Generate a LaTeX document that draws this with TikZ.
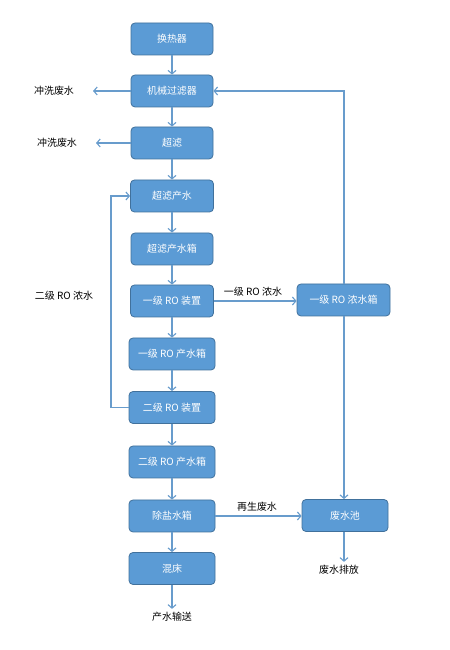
\documentclass[tikz,border=0pt]{standalone}
\usepackage{fontspec}
\newfontfamily\cjk{Noto Sans CJK SC}
\usetikzlibrary{arrows.meta,shapes}
\definecolor{boxfill}{RGB}{91,155,213}
\definecolor{boxline}{RGB}{65,113,156}
\definecolor{flowline}{RGB}{104,156,204}

\begin{document}
\begin{tikzpicture}[>={Straight Barb[length=3.5pt,width=8pt]}]
      \tikzstyle{every node}=[font=\cjk\fontsize{10}{12}\selectfont]
      \tikzstyle{procbox}=[draw=boxline,fill=boxfill,text=white,rounded corners=4bp,line width=0.8bp,minimum width=82bp,minimum height=32bp,inner sep=1bp]
      \tikzstyle{flow}=[->,draw=flowline,line width=1.1bp]
      \useasboundingbox (0bp,0bp) rectangle (450bp,650bp);

%%
\node (p_1) at (172bp,611bp) [procbox] {换热器};
  \node (p_2) at (172bp,559bp) [procbox] {机械过滤器};
  \node (p_3) at (172bp,507bp) [procbox] {超滤};
  \node (p_4) at (172bp,454bp) [procbox,minimum width=83bp] {超滤产水};
  \node (p_5) at (172bp,401bp) [procbox] {超滤产水箱};
  \node (p_6) at (172bp,349bp) [procbox,minimum width=83bp] {一级 RO 装置};
  \node (p_7) at (172bp,296bp) [procbox,minimum width=86bp] {一级 RO 产水箱};
  \node (p_8) at (172bp,242.5bp) [procbox,minimum width=86bp] {二级 RO 装置};
  \node (p_9) at (172bp,188bp) [procbox,minimum width=86bp] {二级 RO 产水箱};
  \node (p_10) at (172bp,134bp) [procbox,minimum width=86bp] {除盐水箱};
  \node (p_11) at (172bp,81.5bp) [procbox,minimum width=86bp] {混床};
  \node (r_1) at (343.5bp,350bp) [procbox,minimum width=93bp] {一级 RO 浓水箱};
  \node (r_2) at (345bp,134.5bp) [procbox,minimum width=86bp] {废水池};
  \node (t_1) at (54bp,559bp) [draw=none] {冲洗废水};
  \node (t_2) at (57bp,507bp) [draw=none] {冲洗废水};
  \node (t_3) at (64bp,354bp) [draw=none] {二级 RO 浓水};
  \node (t_4) at (253bp,358bp) [draw=none] {一级 RO 浓水};
  \node (t_5) at (257bp,143bp) [draw=none] {再生废水};
  \node (t_6) at (172bp,33bp) [draw=none] {产水输送};
  \node (t_7) at (339bp,80bp) [draw=none] {废水排放};
  \coordinate (e_1) at (93bp,559bp);
  \coordinate (e_2) at (96bp,507bp);
  \coordinate (c_1) at (111bp,350bp);
  \draw [flow] (p_1) -- (p_2);
  \draw [flow] (p_2) -- (p_3);
  \draw [flow] (p_3) -- (p_4);
  \draw [flow] (p_4) -- (p_5);
  \draw [flow] (p_5) -- (p_6);
  \draw [flow] (p_6) -- (p_7);
  \draw [flow] (p_7) -- (p_8);
  \draw [flow] (p_8) -- (p_9);
  \draw [flow] (p_9) -- (p_10);
  \draw [flow] (p_10) -- (p_11);
  \draw [flow] (p_11) -- (t_6);
  \draw [flow] (p_2.west) -- (e_1);
  \draw [flow] (p_3.west) -- (e_2);
  \draw [flow] (p_6.east) -- (r_1.west |- p_6.east);
  \draw [flow] (p_10.east) -- (r_2.west |- p_10.east);
  \draw [flow] (r_1.north -| 344bp,0) |- (p_2.east);
  \draw [flow] (r_1.south -| 344bp,0) -- (r_2.north -| 344bp,0);
  \draw [flow] (r_2.south -| 344bp,0) -- (t_7.north -| 344bp,0);
  \draw [flow] (p_8.west) -| (c_1) |- (p_4.west);
%

    \end{tikzpicture}
\end{document}
